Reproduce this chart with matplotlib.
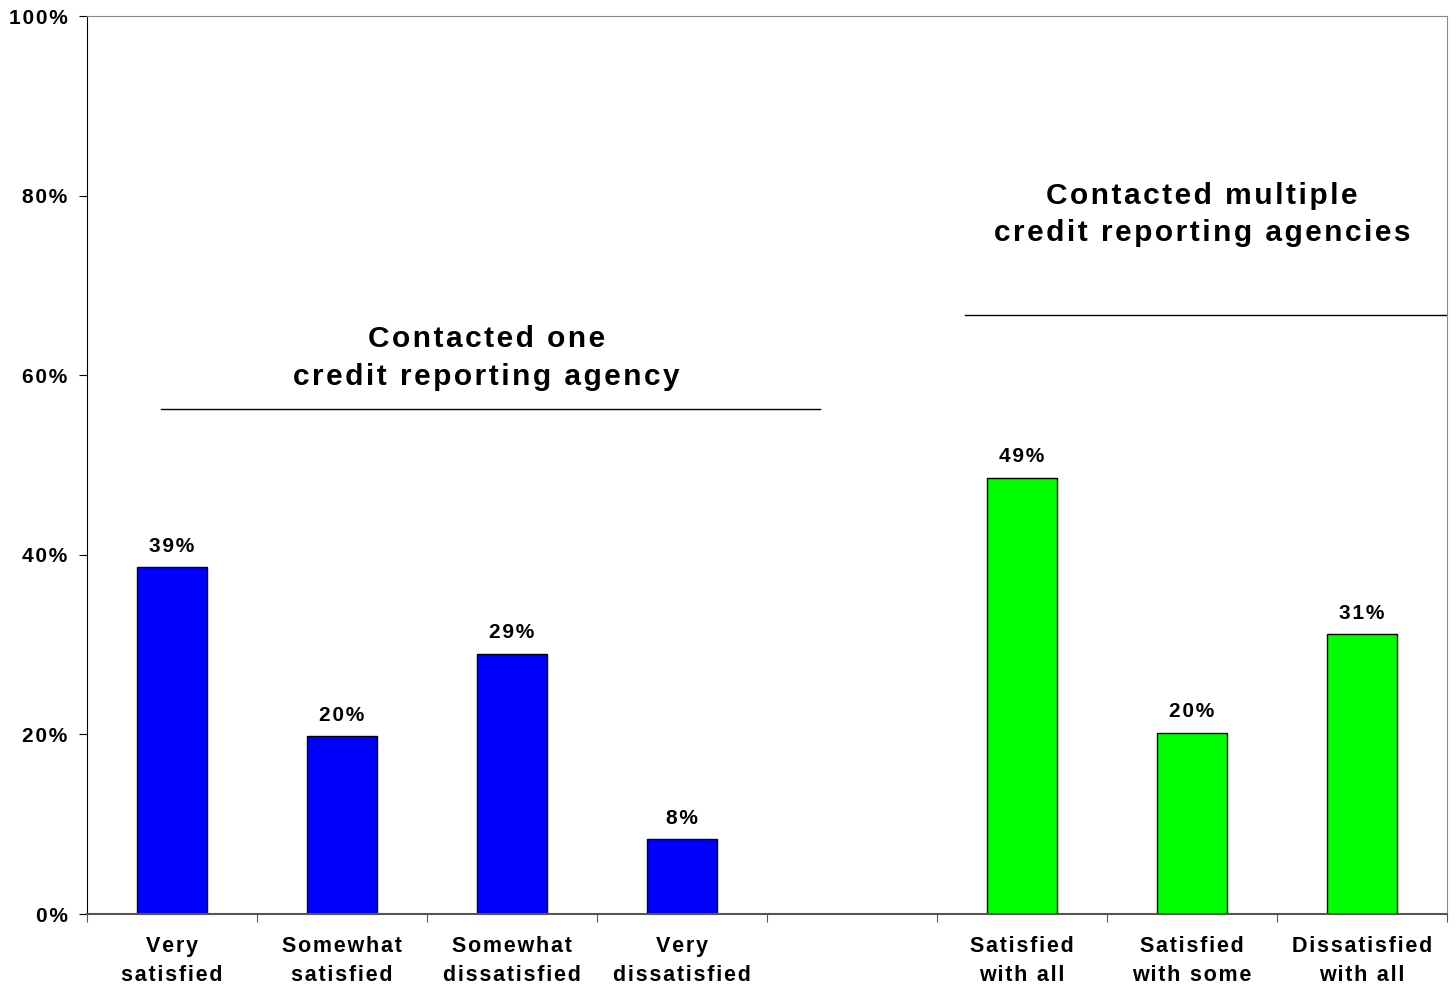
import matplotlib
matplotlib.use("Agg")
import matplotlib.pyplot as plt
import numpy as np

plt.rcParams['font.family'] = ['Liberation Sans', 'DejaVu Sans']
plt.rcParams['font.weight'] = 'bold'

categories = ["Very\nsatisfied", "Somewhat\nsatisfied", "Somewhat\ndissatisfied", "Very\ndissatisfied",
              "", "Satisfied\nwith all", "Satisfied\nwith some", "Dissatisfied\nwith all"]
one_values = [38.6, 19.8, 29.0, 8.3]
one_labels = ["39%", "20%", "29%", "8%"]
multi_values = [48.6, 20.2, 31.2]
multi_labels = ["49%", "20%", "31%"]
group_titles = ["Contacted one\ncredit reporting agency", "Contacted multiple\ncredit reporting agencies"]
yticks = [0, 20, 40, 60, 80, 100]

HS = '\u200a'


def spaced(s):
    return "\n".join(HS.join(list(line)) for line in s.split("\n"))


fig = plt.figure(figsize=(14.56, 9.89), dpi=100)
ax = fig.add_axes([87/1456, 1-914/989, (1447-87)/1456, (914-16)/989])

x_one = np.arange(4)
x_multi = np.arange(5, 8)
w = 0.41
ax.bar(x_one, one_values, width=w, color='#0000ff', edgecolor='black', linewidth=1)
ax.bar(x_multi, multi_values, width=w, color='#00ff00', edgecolor='black', linewidth=1)

for xi, v, lab in zip(list(x_one) + list(x_multi), one_values + multi_values, one_labels + multi_labels):
    ax.annotate(spaced(lab), (xi, v), xytext=(0, 8), textcoords='offset points',
                ha='center', va='bottom', fontsize=15, fontweight='bold')

ax.set_xlim(-0.5, 7.5)
ax.set_ylim(0, 100)
ax.set_yticks(yticks)
ax.set_yticklabels([spaced(f"{t}%") for t in yticks], fontsize=15, fontweight='bold')
ax.set_xticks(np.arange(-0.5, 8.0, 1.0))
ax.set_xticklabels([])
ax.set_xticks(np.arange(8), minor=True)
ax.set_xticklabels([spaced(c) for c in categories], minor=True, fontsize=15.5, fontweight='bold', linespacing=1.5)
ax.tick_params(axis='x', which='minor', length=0, pad=16)
ax.tick_params(axis='x', which='major', length=6, direction='out', color='#555555')
ax.tick_params(axis='y', length=6, direction='out', pad=8)

for s in ['top', 'right']:
    ax.spines[s].set_color('#888888')
ax.spines['left'].set_color('black')
ax.spines['bottom'].set_color('#555555')
ax.spines['bottom'].set_linewidth(1.5)

# group annotations
ax.plot([-0.065, 3.81], [56.2, 56.2], color='black', linewidth=1)
ax.text(1.85, 61.9, spaced(group_titles[0]), ha='center', va='center', fontsize=21.5, fontweight='bold', linespacing=1.45)
ax.plot([4.665, 7.5], [66.7, 66.7], color='black', linewidth=1)
ax.text(6.06, 77.9, spaced(group_titles[1]), ha='center', va='center', fontsize=21.5, fontweight='bold', linespacing=1.45)

fig.savefig("out.png", dpi=100)
